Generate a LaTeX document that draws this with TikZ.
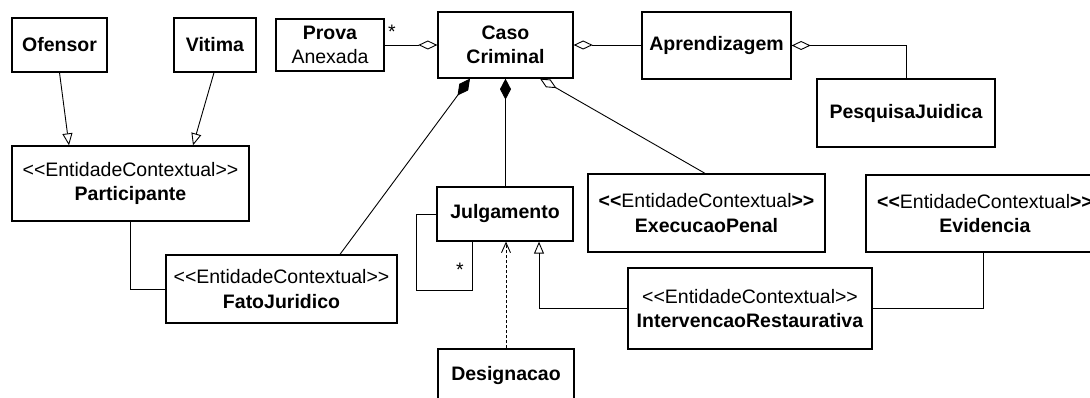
\documentclass[tikz,border=0pt]{standalone}
\usepackage{fontspec}
\setmainfont{Liberation Sans}
\usetikzlibrary{arrows.meta,calc}
\newcommand\ltlt{<\kern0pt<}
\newcommand\gtgt{>\kern0pt>}
\begin{document}
\begin{tikzpicture}[x=1pt,y=-1pt,
 every node/.style={font=\fontsize{19.5}{24.5}\selectfont},
 box/.style={draw, line width=1.3pt, inner sep=0pt, align=center, fill=white},
 conn/.style={line width=0.9pt},
 agg/.style={conn, {Diamond[open,length=19pt,width=9pt]}-},
 comp/.style={conn, {Diamond[length=21pt,width=11pt]}-},
 gen/.style={conn, -{Triangle[open,length=12pt,width=10pt]}},
 dep/.style={conn, dash pattern=on 3pt off 2pt, -{Straight Barb[length=10pt,width=9pt]}},
]
\useasboundingbox (0,0) rectangle (1090,398);
\clip (0,0) rectangle (1090,398);

\node[box,minimum width=95pt,minimum height=54pt] (ofensor) at (59.5,45) {\textbf{Ofensor}};
\node[box,minimum width=82pt,minimum height=54pt] (vitima) at (215,45) {\textbf{Vitima}};
\node[box,minimum width=108pt,minimum height=52pt] (prova) at (330,45) {\textbf{Prova}\\Anexada};
\node[box,minimum width=135pt,minimum height=66pt] (caso) at (505.5,45) {\textbf{Caso}\\\textbf{Criminal}};
\node[box,minimum width=149pt,minimum height=67pt] (aprend) at (716.5,45.5) {\textbf{Aprendizagem}};
\node[box,minimum width=178pt,minimum height=68pt] (pesquisa) at (906,113) {\textbf{PesquisaJuidica}};
\node[box,minimum width=237pt,minimum height=75pt] (particip) at (130.5,183.5) {\ltlt EntidadeContextual\gtgt\\\textbf{Participante}};
\node[box,minimum width=136pt,minimum height=54pt] (julg) at (505,214) {\textbf{Julgamento}};
\node[box,minimum width=237pt,minimum height=78pt] (exec) at (706.5,213) {\textbf{\ltlt}EntidadeContextual\textbf{\gtgt}\\\textbf{ExecucaoPenal}};
\node[box,minimum width=238pt,minimum height=77pt] (evid) at (985,213.5) {\textbf{\ltlt}EntidadeContextual\textbf{\gtgt}\\\textbf{Evidencia}};
\node[box,minimum width=231pt,minimum height=68pt] (fato) at (281.5,289) {\ltlt EntidadeContextual\gtgt\\\textbf{FatoJuridico}};
\node[box,minimum width=244pt,minimum height=81pt] (interv) at (750,308.5) {\ltlt EntidadeContextual\gtgt\\\textbf{IntervencaoRestaurativa}};
\node[box,minimum width=136pt,minimum height=54pt] (design) at (506,376) {\textbf{Designacao}};

\draw[gen] (ofensor.south) -- ([xshift=-61.5pt]particip.north);
\draw[gen] ([xshift=-1pt]vitima.south) -- ([xshift=62.5pt]particip.north);
\draw[agg] (caso.west) -- (caso.west -| prova.east);
\node (star1) at (392,32) {*};
\draw[agg] (caso.east) -- (caso.east -| aprend.west);
\draw[agg] (aprend.east) -| (pesquisa.north);
\draw[comp] ([xshift=-35.5pt]caso.south) -- ([xshift=58.5pt]fato.north);
\draw[comp] (caso.south) -- (caso.south |- julg.north);
\draw[agg] ([xshift=34.5pt]caso.south) -- ([xshift=-1.5pt]exec.north);
\draw[conn] (particip.south) |- (fato.west);
\draw[conn] (julg.west) -- ++(-20,0) -- ++(0,76) -| ([xshift=-33pt]julg.south);
\node (star2) at (460,270) {*};
\draw[dep] (design.north) -- (design.north |- julg.south);
\draw[gen] (interv.west) -| ([xshift=34pt]julg.south);
\draw[conn] ([xshift=-2pt]evid.south) |- (interv.east);
\end{tikzpicture}
\end{document}
